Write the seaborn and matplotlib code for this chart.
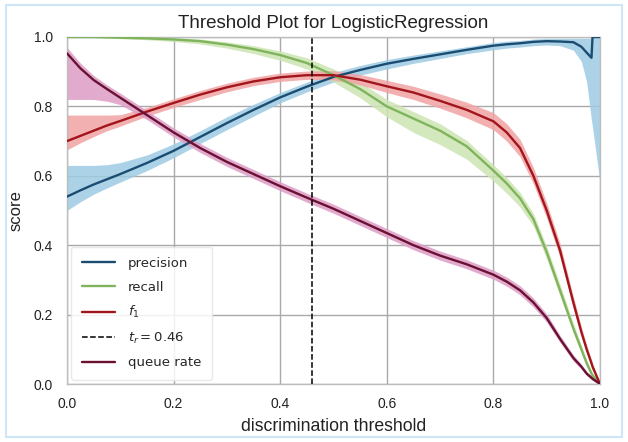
import numpy as np
import pandas as pd
import matplotlib
matplotlib.use("Agg")
import matplotlib.pyplot as plt
import seaborn as sns
from matplotlib.patches import Rectangle

# ---------------- data ----------------
thresholds = [0.0, 0.025, 0.05, 0.075, 0.1, 0.15, 0.2, 0.25, 0.3, 0.35, 0.4, 0.45,
              0.5, 0.55, 0.6, 0.65, 0.7, 0.75, 0.8, 0.825, 0.85, 0.875, 0.9,
              0.925, 0.95, 0.965, 0.975, 0.984, 0.986, 1.0]

precision = [0.54, 0.558, 0.575, 0.59, 0.605, 0.637, 0.672, 0.712, 0.752, 0.79,
             0.826, 0.857, 0.885, 0.905, 0.923, 0.937, 0.95, 0.963, 0.975, 0.979,
             0.982, 0.986, 0.988, 0.987, 0.985, 0.972, 0.955, 0.94, 1.0, 1.0]
precision_hi = [0.63, 0.63, 0.63, 0.632, 0.638, 0.66, 0.692, 0.73, 0.77, 0.806,
                0.84, 0.87, 0.898, 0.918, 0.935, 0.948, 0.96, 0.972, 0.984, 0.988,
                0.99, 0.994, 0.996, 0.996, 0.996, 0.996, 0.996, 0.996, 1.0, 1.0]
precision_lo = [0.50, 0.525, 0.547, 0.565, 0.582, 0.615, 0.652, 0.693, 0.733, 0.772,
                0.81, 0.842, 0.87, 0.89, 0.908, 0.924, 0.938, 0.952, 0.963, 0.968,
                0.971, 0.975, 0.977, 0.975, 0.962, 0.93, 0.87, 0.76, 0.74, 0.58]

recall = [1.0, 1.0, 1.0, 0.999, 0.998, 0.996, 0.993, 0.988, 0.978, 0.965,
          0.948, 0.925, 0.89, 0.85, 0.80, 0.765, 0.73, 0.685, 0.615, 0.578,
          0.535, 0.475, 0.38, 0.27, 0.16, 0.10, 0.06, 0.03, 0.025, 0.0]
recall_hi = [1.0, 1.0, 1.0, 1.0, 1.0, 1.0, 0.998, 0.994, 0.986, 0.975,
             0.96, 0.94, 0.908, 0.87, 0.82, 0.785, 0.75, 0.702, 0.632, 0.595,
             0.552, 0.492, 0.397, 0.287, 0.175, 0.113, 0.07, 0.038, 0.032, 0.0]
recall_lo = [1.0, 0.999, 0.998, 0.997, 0.995, 0.992, 0.987, 0.98, 0.968, 0.952,
             0.933, 0.908, 0.87, 0.825, 0.77, 0.725, 0.69, 0.648, 0.585, 0.55,
             0.51, 0.455, 0.36, 0.253, 0.147, 0.09, 0.052, 0.024, 0.02, 0.0]

f1 = [0.70, 0.715, 0.73, 0.745, 0.758, 0.785, 0.81, 0.834, 0.855, 0.872,
      0.884, 0.89, 0.89, 0.877, 0.858, 0.84, 0.816, 0.79, 0.757, 0.725,
      0.68, 0.60, 0.50, 0.385, 0.235, 0.15, 0.10, 0.06, 0.05, 0.0]
f1_hi = [0.775, 0.775, 0.775, 0.775, 0.776, 0.797, 0.822, 0.846, 0.867, 0.884,
         0.896, 0.902, 0.903, 0.892, 0.875, 0.858, 0.836, 0.812, 0.782, 0.75,
         0.705, 0.624, 0.522, 0.405, 0.252, 0.165, 0.112, 0.07, 0.06, 0.0]
f1_lo = [0.675, 0.695, 0.713, 0.73, 0.743, 0.772, 0.797, 0.82, 0.842, 0.86,
         0.872, 0.878, 0.876, 0.862, 0.84, 0.82, 0.795, 0.767, 0.733, 0.70,
         0.655, 0.577, 0.478, 0.365, 0.218, 0.136, 0.088, 0.05, 0.04, 0.0]

queue_rate = [0.953, 0.91, 0.876, 0.85, 0.825, 0.775, 0.725, 0.68, 0.64, 0.605,
              0.57, 0.537, 0.505, 0.47, 0.435, 0.40, 0.37, 0.345, 0.315, 0.295,
              0.27, 0.235, 0.19, 0.13, 0.075, 0.05, 0.03, 0.018, 0.015, 0.0]
queue_hi = [0.97, 0.925, 0.889, 0.862, 0.838, 0.788, 0.738, 0.693, 0.653, 0.618,
            0.583, 0.55, 0.518, 0.483, 0.448, 0.413, 0.383, 0.358, 0.328, 0.308,
            0.283, 0.248, 0.202, 0.14, 0.084, 0.057, 0.036, 0.023, 0.02, 0.0]
queue_lo = [0.82, 0.82, 0.82, 0.815, 0.805, 0.762, 0.712, 0.667, 0.627, 0.592,
            0.557, 0.524, 0.492, 0.457, 0.422, 0.387, 0.357, 0.332, 0.302, 0.282,
            0.257, 0.222, 0.178, 0.12, 0.066, 0.043, 0.024, 0.013, 0.01, 0.0]

threshold_choice = 0.46
series_names = ["precision", "recall", "$f_1$", "queue rate"]
line_colors = ["#1b4d72", "#7fb45c", "#a3151c", "#6a1133"]
band_colors = ["#9ecbe3", "#cde5b3", "#f0a3a3", "#dd9cc6"]
xticks = [0.0, 0.2, 0.4, 0.6, 0.8, 1.0]
yticks = [0.0, 0.2, 0.4, 0.6, 0.8, 1.0]

# ---------------- style ----------------
sns.set_theme(style="whitegrid")
plt.rcParams.update({
    "font.family": ["Liberation Sans", "DejaVu Sans"],
    "grid.color": "#a9a9a9",
    "grid.linewidth": 1.0,
    "axes.edgecolor": "#bdbdbd",
    "axes.linewidth": 1.0,
})

fig = plt.figure(figsize=(6.28, 4.42), dpi=100)
ax = fig.add_axes([67 / 628, 1 - 384 / 442, 533 / 628, 347 / 442])

values = [precision, recall, f1, queue_rate]
his = [precision_hi, recall_hi, f1_hi, queue_hi]
los = [precision_lo, recall_lo, f1_lo, queue_lo]

for i, name in enumerate(series_names):
    ax.fill_between(thresholds, los[i], his[i], color=band_colors[i],
                    alpha=0.85, linewidth=0, zorder=2)

for i, name in enumerate(series_names):
    if i == 3:
        ax.axvline(threshold_choice, color="black", linestyle="--", lw=1.1,
                   label="$t_r = {:0.2f}$".format(threshold_choice), zorder=4)
    df = pd.DataFrame({"threshold": thresholds, "score": values[i]})
    sns.lineplot(data=df, x="threshold", y="score", ax=ax, color=line_colors[i],
                 lw=1.7, label=name, zorder=3, estimator=None, sort=False)

ax.set_xlim(0, 1)
ax.set_ylim(0, 1)
ax.set_xticks(xticks)
ax.set_yticks(yticks)
ax.set_xticklabels([f"{v:.1f}" for v in xticks])
ax.set_yticklabels([f"{v:.1f}" for v in yticks])
ax.tick_params(axis="x", labelsize=10, pad=9.5, length=0, colors="#222222")
ax.tick_params(axis="y", labelsize=10, pad=10, length=0, colors="#222222")
ax.set_xlabel("discrimination threshold", fontsize=12.7, labelpad=5, color="#222222")
ax.set_ylabel("score", fontsize=12, labelpad=7, color="#222222")
ax.set_title("Threshold Plot for LogisticRegression", fontsize=13.5,
             pad=6.5, color="#222222")

leg = ax.legend(loc="lower left", frameon=True,
                handlelength=2.5, handletextpad=1.0, labelspacing=0.8,
                borderpad=0.8, borderaxespad=0.3,
                prop={"family": "DejaVu Sans", "size": 9.5})
leg.get_frame().set_edgecolor("#e6e6e6")
leg.get_frame().set_facecolor("white")
leg.get_frame().set_alpha(0.85)

# light blue border around the picture
fig.patches.append(Rectangle((6 / 628, 5 / 442), 616 / 628, 432 / 442,
                             transform=fig.transFigure, fill=False,
                             edgecolor="#cfe6f6", lw=1.5))

fig.savefig("out.png", dpi=100)
